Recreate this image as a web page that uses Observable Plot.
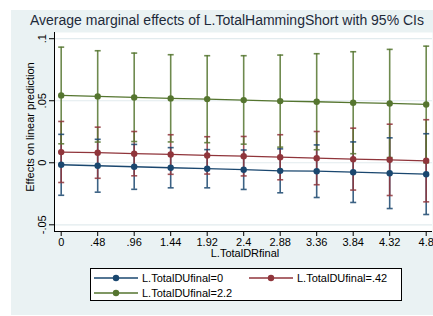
<!DOCTYPE html>
<html><head><meta charset="utf-8">
<script src="https://cdn.jsdelivr.net/npm/d3@7"></script>
<script src="https://cdn.jsdelivr.net/npm/@observablehq/plot@0.6"></script>
<style>
body{margin:0;background:#fff;}
#wrap{position:relative;width:433px;height:316px;overflow:hidden;background:#fff;font-family:"Liberation Sans",Arial,sans-serif;color:#000;}
#bg{position:absolute;left:11px;top:10px;right:0;bottom:1px;background:#eaf2f3;}
#chart{position:absolute;left:0;top:0;}
#title{position:absolute;left:0;width:454px;top:12px;text-align:center;font-size:14px;line-height:16px;color:#1e2a3a;white-space:nowrap;}
#xtitle{position:absolute;left:145px;width:200px;top:246px;text-align:center;font-size:11px;line-height:14px;white-space:nowrap;}
#ytitle{position:absolute;left:-70px;width:200px;top:120px;text-align:center;font-size:11px;line-height:14px;white-space:nowrap;transform:rotate(-90deg);}
#legend{position:absolute;left:90px;top:268px;width:310px;height:31px;background:#fff;border:1px solid #000;font-size:11px;}
.item{position:absolute;height:14px;line-height:14px;white-space:nowrap;}
.item svg{position:absolute;left:0;top:0;}
.item span{position:absolute;left:49px;top:0;}
</style></head>
<body>
<div id="wrap"><div id="bg"></div><div id="chart"></div><div id="title"></div><div id="xtitle"></div><div id="ytitle"></div><div id="legend"></div></div>
<script>
const titleText = "Average marginal effects of L.TotalHammingShort with 95% CIs";
const xTitle = "L.TotalDRfinal";
const yTitle = "Effects on linear prediction";
const xs = [0, 0.48, 0.96, 1.44, 1.92, 2.4, 2.88, 3.36, 3.84, 4.32, 4.8];
const xLabels = ["0", ".48", ".96", "1.44", "1.92", "2.4", "2.88", "3.36", "3.84", "4.32", "4.8"];
const yTicks = [-0.05, 0, 0.05, 0.1];
const yLabels = ["-.05", "0", ".05", ".1"];
const seriesNames = ["L.TotalDUfinal=0", "L.TotalDUfinal=.42", "L.TotalDUfinal=2.2"];
const seriesColors = ["#1a476f", "#90353b", "#55752f"];

const est0 = [-0.0016, -0.0024, -0.0032, -0.0040, -0.0048, -0.0056, -0.0065, -0.0068, -0.0076, -0.0084, -0.0092];
const lo0  = [-0.0262, -0.0237, -0.0214, -0.0202, -0.0202, -0.0215, -0.0242, -0.0280, -0.0320, -0.0369, -0.0417];
const hi0  = [ 0.0229,  0.0189,  0.0148,  0.0122,  0.0106,  0.0103,  0.0112,  0.0144,  0.0168,  0.0201,  0.0234];

const est1 = [0.0086, 0.0081, 0.0073, 0.0067, 0.0059, 0.0053, 0.0045, 0.0037, 0.0029, 0.0024, 0.0016];
const lo1  = [-0.0159, -0.0125, -0.0105, -0.0093, -0.0091, -0.0106, -0.0137, -0.0177, -0.0220, -0.0264, -0.0315];
const hi1  = [0.0333, 0.0287, 0.0252, 0.0226, 0.0210, 0.0212, 0.0226, 0.0252, 0.0279, 0.0311, 0.0347];

const est2 = [0.0543, 0.0535, 0.0527, 0.0519, 0.0513, 0.0505, 0.0497, 0.0492, 0.0484, 0.0478, 0.0470];
const lo2  = [0.0153, 0.0167, 0.0171, 0.0168, 0.0162, 0.0150, 0.0126, 0.0105, 0.0073, 0.0042, 0.0000];
const hi2  = [0.0932, 0.0903, 0.0884, 0.0871, 0.0863, 0.0863, 0.0868, 0.0879, 0.0895, 0.0914, 0.0940];

const ests = [est0, est1, est2], los = [lo0, lo1, lo2], his = [hi0, hi1, hi2];
const rows = [];
ests.forEach((e, s) => xs.forEach((x, i) => rows.push({s: seriesNames[s], x, y: e[i], lo: los[s][i], hi: his[s][i]})));

const capSymbol = {draw(ctx, size) { const w = Math.sqrt(size / Math.PI); ctx.moveTo(-w, 0); ctx.lineTo(w, 0); }};
const font = '"Liberation Sans",Arial,sans-serif';

const chart = Plot.plot({
  width: 433, height: 316,
  marginLeft: 54, marginRight: 1, marginTop: 32, marginBottom: 85,
  style: {background: "transparent", fontFamily: font, fontSize: "11px", color: "#000"},
  x: {domain: [-0.088, 4.883]},
  y: {domain: [-0.0554, 0.105]},
  color: {domain: seriesNames, range: seriesColors},
  marks: [
    Plot.frame({fill: "white", stroke: null}),
    Plot.gridY(yTicks, {stroke: "#e2ebee", strokeOpacity: 1, strokeWidth: 1.2}),
    Plot.ruleX(rows, {x: "x", y1: "lo", y2: "hi", stroke: "s", strokeWidth: 1.6, strokeOpacity: 0.85}),
    Plot.dot(rows, {x: "x", y: "lo", stroke: "s", symbol: capSymbol, r: 3, strokeWidth: 1.6, strokeOpacity: 0.85}),
    Plot.dot(rows, {x: "x", y: "hi", stroke: "s", symbol: capSymbol, r: 3, strokeWidth: 1.6, strokeOpacity: 0.85}),
    Plot.line(rows, {x: "x", y: "y", z: "s", stroke: "s", strokeWidth: 1.3}),
    Plot.dot(rows, {x: "x", y: "y", fill: "s", r: 3.2}),
    Plot.ruleX([-0.088], {stroke: "#000", strokeWidth: 1}),
    Plot.ruleY([-0.0554], {stroke: "#000", strokeWidth: 1}),
    Plot.axisX(xs, {tickFormat: d => xLabels[xs.indexOf(d)], tickSize: 5, tickPadding: 2, fontSize: 11, label: null}),
    Plot.axisY(yTicks, {tickFormat: d => yLabels[yTicks.indexOf(d)], tickRotate: -90, tickSize: 5, tickPadding: 4, fontSize: 11, label: null})
  ]
});
document.getElementById("chart").appendChild(chart);
document.getElementById("title").textContent = titleText;
document.getElementById("xtitle").textContent = xTitle;
document.getElementById("ytitle").textContent = yTitle;

const legend = document.getElementById("legend");
const pos = [[2, 2], [157, 2], [2, 17]];
seriesNames.forEach((name, s) => {
  const it = document.createElement("div");
  it.className = "item";
  it.style.left = pos[s][0] + "px";
  it.style.top = pos[s][1] + "px";
  it.innerHTML = `<svg width="46" height="14"><line x1="1" x2="45" y1="7" y2="7" stroke="${seriesColors[s]}" stroke-width="1.3"/><circle cx="23" cy="7" r="3.2" fill="${seriesColors[s]}"/></svg><span>${name}</span>`;
  legend.appendChild(it);
});
</script>
</body></html>
